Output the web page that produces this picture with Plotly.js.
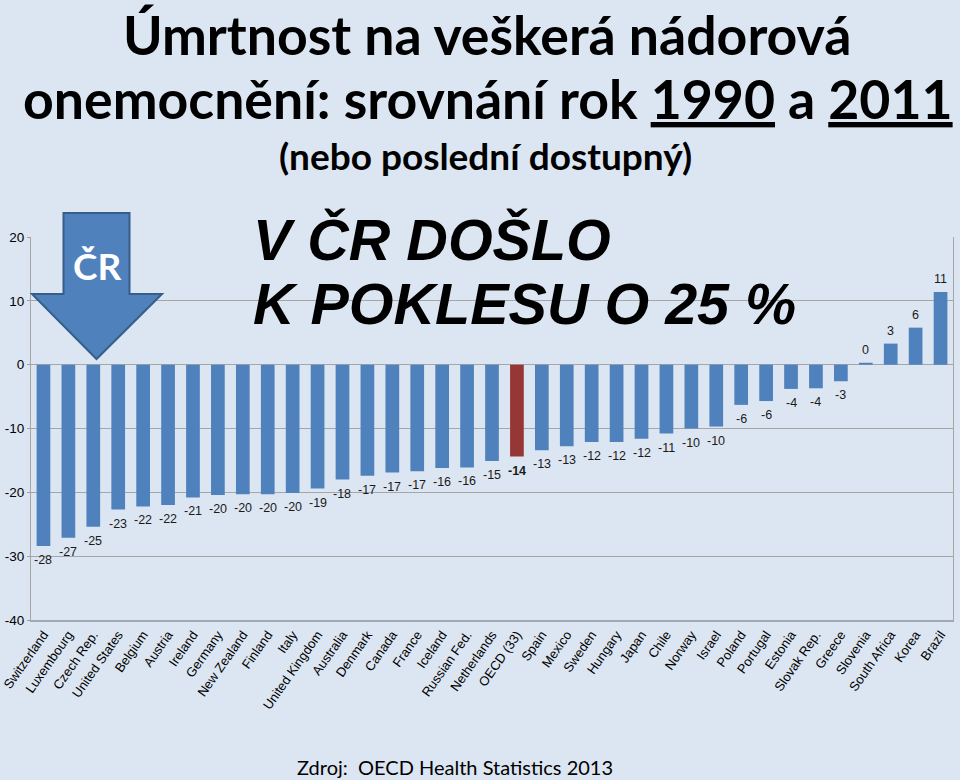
<!DOCTYPE html>
<html>
<head>
<meta charset="utf-8">
<script src="https://cdn.plot.ly/plotly-3.0.1.min.js"></script>
<style>
html,body{margin:0;padding:0;background:#DCE6F2;}
#chart{width:960px;height:780px;}
</style>
</head>
<body>
<div id="chart"></div>
<script>
// ---- data ----
var countries = ["Switzerland","Luxembourg","Czech Rep.","United States","Belgium","Austria","Ireland","Germany","New Zealand","Finland","Italy","United Kingdom","Australia","Denmark","Canada","France","Iceland","Russian Fed.","Netherlands","OECD (33)","Spain","Mexico","Sweden","Hungary","Japan","Chile","Norway","Israel","Poland","Portugal","Estonia","Slovak Rep.","Greece","Slovenia","South Africa","Korea","Brazil"];
var changePct = [-28.4,-27.1,-25.4,-22.7,-22.2,-22.0,-20.8,-20.4,-20.3,-20.3,-20.1,-19.4,-18.0,-17.4,-16.9,-16.7,-16.2,-16.1,-15.1,-14.4,-13.4,-12.8,-12.1,-12.1,-11.6,-10.8,-10.0,-9.7,-6.3,-5.7,-3.8,-3.7,-2.6,0.3,3.3,5.8,11.4];
var highlight = "OECD (33)";
var yTickVals = [-40,-30,-20,-10,0,10,20];
var yTickText = ["-40","-30","-20","-10","0","10","20"];

// ---- geometry helpers (pixel -> paper) ----
var L = 31, R = 7, T = 237, B = 160, W = 960, H = 780;
var PW = W - L - R, PH = H - T - B;
function px(x){ return (x - L) / PW; }
function py(y){ return (H - B - y) / PH; }

var colors = countries.map(function(c){ return c === highlight ? "#953735" : "#4F81BD"; });

var trace = {
  type: "bar",
  x: countries,
  y: changePct,
  marker: {color: colors},
  hoverinfo: "skip"
};

// value labels, anchored to each bar end through the axes
var labelFont = {family: "Arial, Liberation Sans, sans-serif", size: 12.5, color: "#1a1a1a"};
var valueLabels = changePct.map(function(v, i){
  var s = String(Math.round(v));
  return {
    xref: "x", yref: "y", x: countries[i], y: v,
    text: countries[i] === highlight ? "<b>" + s + "</b>" : s,
    showarrow: false, xanchor: "center", yanchor: "middle",
    yshift: v < 0 ? -14 : 13,
    font: labelFont
  };
});

var boundaries = [];
for (var i = 0; i <= countries.length; i++) boundaries.push(i - 0.5);

// arrow shape path in paper coords
function P(x, y){ return px(x).toFixed(5) + "," + py(y).toFixed(5); }
var arrowPath = "M" + P(63.5,213) + " L" + P(129.5,213) + " L" + P(129.5,294) +
  " L" + P(162,294) + " L" + P(96.5,359) + " L" + P(32,294) + " L" + P(63.5,294) + " Z";

var titleFont = {family: "Lato, Open Sans, sans-serif", size: 53.6, color: "#000"};
var bigFont = {family: "Arial, Liberation Sans, sans-serif", size: 57.5, color: "#000"};

var textAnns = [
  {xref: "paper", yref: "paper", x: px(487), y: py(34), xanchor: "center", yanchor: "middle",
   text: "<b>Úmrtnost na veškerá nádorová</b>", showarrow: false, font: titleFont},
  {xref: "paper", yref: "paper", x: px(488), y: py(98), xanchor: "center", yanchor: "middle",
   text: "<b>onemocnění: srovnání rok <u>1990</u> a <u>2011</u></b>", showarrow: false, font: titleFont},
  {xref: "paper", yref: "paper", x: px(485), y: py(155), xanchor: "center", yanchor: "middle",
   text: "<b>(nebo poslední dostupný)</b>", showarrow: false,
   font: {family: "Lato, Open Sans, sans-serif", size: 37, color: "#000"}},
  {xref: "paper", yref: "paper", x: px(251), y: py(240), xanchor: "left", yanchor: "middle",
   text: "<b><i>V ČR DOŠLO</i></b>", showarrow: false, font: bigFont},
  {xref: "paper", yref: "paper", x: px(251), y: py(304), xanchor: "left", yanchor: "middle",
   text: "<b><i>K POKLESU O 25 %</i></b>", showarrow: false, font: bigFont},
  {xref: "paper", yref: "paper", x: px(96.5), y: py(265), xanchor: "center", yanchor: "middle",
   text: "<b>ČR</b>", showarrow: false,
   font: {family: "Lato, Open Sans, sans-serif", size: 37, color: "#FFFFFF"}},
  {xref: "paper", yref: "paper", x: px(455), y: py(767), xanchor: "center", yanchor: "middle",
   text: "Zdroj:  OECD Health Statistics 2013", showarrow: false,
   font: {family: "Lato, Open Sans, sans-serif", size: 20, color: "#000"}}
];

var layout = {
  width: W, height: H,
  margin: {l: L, r: R, t: T, b: B},
  paper_bgcolor: "#DCE6F2",
  plot_bgcolor: "#DCE6F2",
  showlegend: false,
  bargap: 0.45,
  hovermode: false,
  xaxis: {
    type: "category",
    tickangle: -55,
    ticks: "",
    showline: true, linecolor: "#A0A8B4", linewidth: 2,
    showgrid: false,
    tickfont: {family: "Arial, Liberation Sans, sans-serif", size: 13, color: "#000"},
    fixedrange: true
  },
  xaxis2: {
    overlaying: "x", anchor: "free", position: 40/60,
    type: "linear", range: [-0.5, countries.length - 0.5],
    tickmode: "array", tickvals: boundaries,
    ticks: "outside", ticklen: 4, tickcolor: "#A0A0A0", tickwidth: 1,
    showticklabels: false, showgrid: false, showline: false, zeroline: false,
    fixedrange: true
  },
  yaxis: {
    range: [-40, 20],
    tickmode: "array", tickvals: yTickVals, ticktext: yTickText,
    ticks: "outside", ticklen: 3, tickcolor: "#A0A0A0",
    showgrid: true, gridcolor: "#A6A6A6", gridwidth: 1,
    zeroline: true, zerolinecolor: "#A6A6A6", zerolinewidth: 1,
    showline: true, linecolor: "#A6A6A6", linewidth: 1, mirror: true,
    tickfont: {family: "Arial, Liberation Sans, sans-serif", size: 13.5, color: "#000"},
    fixedrange: true
  },
  shapes: [
    {type: "path", xref: "paper", yref: "paper", path: arrowPath,
     fillcolor: "#4F81BD", line: {color: "#385D8A", width: 2}, layer: "above"}
  ],
  annotations: valueLabels.concat(textAnns)
};

Plotly.newPlot("chart", [trace], layout, {displayModeBar: false, staticPlot: true});
</script>
</body>
</html>
